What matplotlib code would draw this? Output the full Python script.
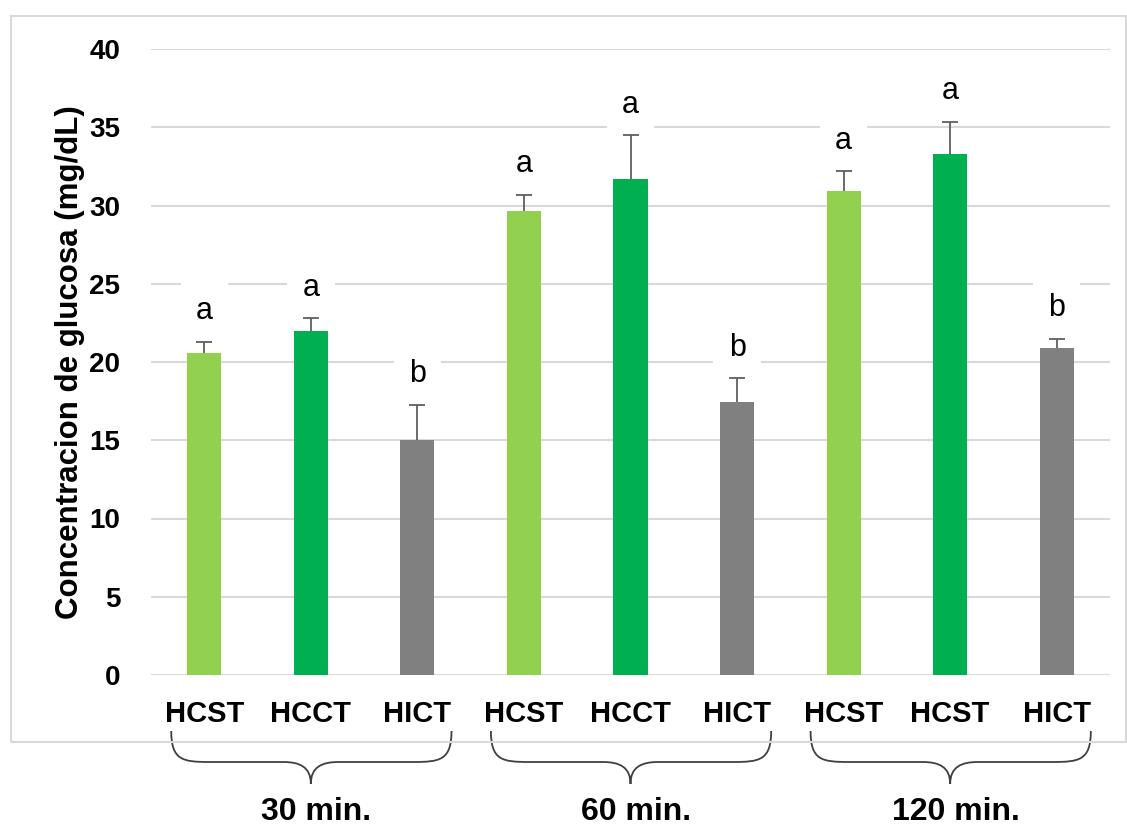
import numpy as np
import matplotlib; matplotlib.use('Agg')
import matplotlib.pyplot as plt
from matplotlib.path import Path
from matplotlib.patches import PathPatch, Rectangle
import matplotlib.transforms as mtransforms

plt.rcParams['font.family'] = ['Liberation Sans', 'DejaVu Sans']

# ---------------------------------------------------------------------------
# Data
# ---------------------------------------------------------------------------
labels = ['HCST', 'HCCT', 'HICT', 'HCST', 'HCCT', 'HICT', 'HCST', 'HCST', 'HICT']
values = [20.6, 22.0, 15.0, 29.65, 31.7, 17.45, 30.9, 33.3, 20.9]
errors = [0.7, 0.8, 2.25, 1.05, 2.8, 1.5, 1.3, 2.05, 0.6]
letters = ['a', 'a', 'b', 'a', 'a', 'b', 'a', 'a', 'b']
groups = ['30 min.', '60 min.', '120 min.']
colors = ['#92D050', '#00B050', '#808080'] * 3

W, H = 1127, 827
fig = plt.figure(figsize=(W / 100, H / 100), dpi=100)

# outer chart frame
fig.patches.append(Rectangle((11 / W, 1 - 742 / H), (1126 - 11) / W, (742 - 16) / H,
                             transform=fig.transFigure, fill=False,
                             ec='#d9d9d9', lw=1.5))

ax = fig.add_axes([151 / W, 1 - 675 / H, 959 / W, 626 / H])
x = np.arange(len(values))
tops = np.array(values) + np.array(errors)

ax.bar(x, values, width=0.32, color=colors, zorder=2)
# upper-only error bars
ax.vlines(x, values, tops, color='#5f5f5f', lw=1.3, zorder=3)
ax.plot(x, tops, ls='none', marker='_', ms=12, mew=1.3, color='#5f5f5f', zorder=3)

for xi, top, t in zip(x, tops, letters):
    ax.annotate(t, (xi, top), xytext=(0, 22), textcoords='offset points',
                ha='center', va='center', fontsize=22, zorder=1.5,
                bbox=dict(boxstyle='square,pad=0.5', fc='white', ec='none'))

ax.set_xlim(-0.5, len(values) - 0.5)
ax.set_ylim(0, 40)
ax.set_yticks(np.arange(0, 41, 5))
ax.set_xticks(x)
ax.set_xticklabels(labels, fontsize=21, fontweight='bold')
ax.tick_params(axis='y', labelsize=20, pad=22, length=0)
for lab in ax.get_yticklabels():
    lab.set_fontweight('bold')
ax.tick_params(axis='x', pad=18, length=0)
ax.yaxis.grid(True, color='#d9d9d9', lw=1.5)
ax.set_axisbelow(True)
for s in ax.spines.values():
    s.set_visible(False)
ax.set_ylabel('Concentracion de glucosa (mg/dL)', fontsize=22.5,
              fontweight='bold', labelpad=3)

# ---------------------------------------------------------------------------
# Group braces (x in data units, y in figure fraction)
# ---------------------------------------------------------------------------
trans = mtransforms.blended_transform_factory(ax.transData, fig.transFigure)
y_top, y_mid, y_tip = 1 - 731 / H, 1 - 762 / H, 1 - 784 / H
for g, name in enumerate(groups):
    x0, x1, xm = g * 3 - 0.31, g * 3 + 2.32, g * 3 + 1.0
    d1, d2 = 0.36, 0.26
    verts = [(x0, y_top), (x0, y_mid + 0.002), (x0 + d1 * 0.3, y_mid), (x0 + d1, y_mid),
             (xm - d2, y_mid),
             (xm - d2 * 0.4, y_mid), (xm, y_mid - 0.006), (xm, y_tip),
             (xm, y_mid - 0.006), (xm + d2 * 0.4, y_mid), (xm + d2, y_mid),
             (x1 - d1, y_mid),
             (x1 - d1 * 0.3, y_mid), (x1, y_mid + 0.002), (x1, y_top)]
    codes = [Path.MOVETO, Path.CURVE4, Path.CURVE4, Path.CURVE4,
             Path.LINETO,
             Path.CURVE4, Path.CURVE4, Path.CURVE4,
             Path.CURVE4, Path.CURVE4, Path.CURVE4,
             Path.LINETO,
             Path.CURVE4, Path.CURVE4, Path.CURVE4]
    ax.add_patch(PathPatch(Path(verts, codes), transform=trans, fill=False,
                           ec='#404040', lw=1.3, clip_on=False))
    ax.text(xm + 0.05, 1 - 812 / H, name, transform=trans, ha='center',
            va='center', fontsize=23, fontweight='bold')

fig.savefig('out.png', dpi=100)
